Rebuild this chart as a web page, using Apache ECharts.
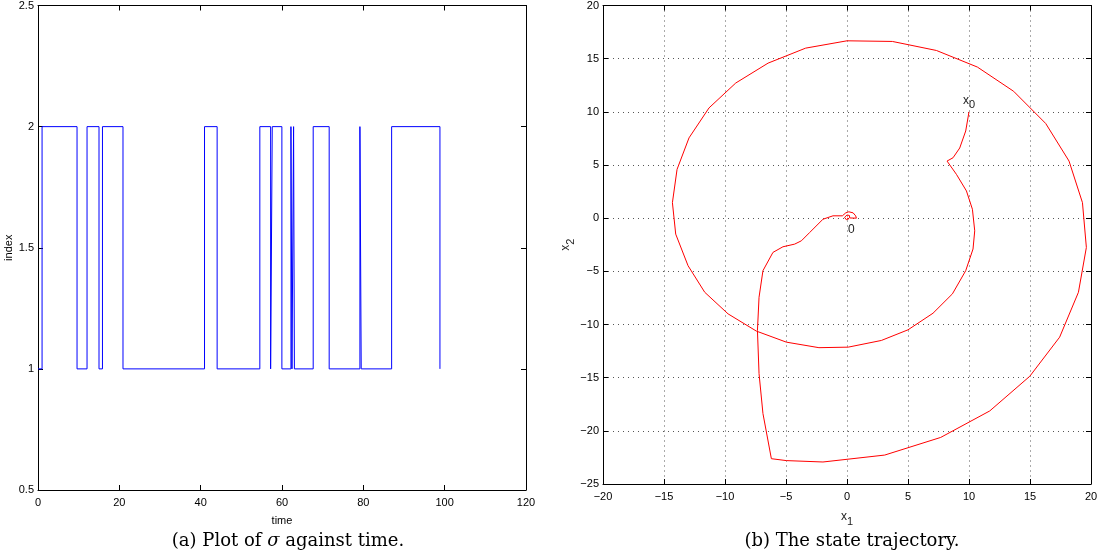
<!DOCTYPE html>
<html>
<head>
<meta charset="utf-8">
<script src="https://cdn.jsdelivr.net/npm/echarts@6/dist/echarts.min.js"></script>
<style>
html,body{margin:0;padding:0;background:#fff;}
#c{width:1104px;height:557px;}
</style>
</head>
<body>
<div id="c"></div>
<script>
// ---- Panel (a): switching signal sigma vs time ----
const switchTimes = [0, 1.0, 9.6, 12.06, 15.0, 15.85, 20.9, 40.95, 44.05, 54.55, 57.2, 57.6, 59.97, 62.2, 62.45, 62.85, 63.05, 67.67, 71.6, 79.16, 79.48, 86.96, 98.84];
const indexValues = [1, 2, 1, 2, 1, 2, 1, 2, 1, 2, 1, 2, 1, 2, 1, 2, 1, 2, 1, 2, 1, 2, 1];
const timeTicks = {min: 0, max: 120, interval: 20};
const indexTicks = {min: 0.5, max: 2.5, interval: 0.5};

// ---- Panel (b): state trajectory ----
const x1Values = [10.0, 9.73, 9.24, 8.69, 8.2, 8.97, 9.79, 10.28, 10.47, 10.33, 9.73, 8.64, 7.05, 5.0, 2.82, 0.1, -2.3, -4.97, -7.43, -9.75, -11.66, -13.03, -14.04, -14.31, -13.93, -12.95, -11.31, -9.12, -6.47, -3.39, 0.0, 3.72, 7.33, 10.69, 13.66, 16.29, 18.2, 19.3, 19.62, 18.97, 17.43, 14.98, 11.7, 7.68, 3.09, -1.97, -4.97, -6.2, -6.89, -7.21, -7.34, -7.21, -6.89, -6.07, -5.25, -4.29, -3.74, -3.06, -1.97, -1.15, -0.38, -0.1, 0.15, 0.5, 0.71, 0.77, 0.22, 0.2, 0.0, -0.2, -0.05, 0.15, 0.1, 0.0];
const x2Values = [10.0, 8.2, 6.6, 5.68, 5.37, 4.12, 2.56, 0.84, -1.19, -2.9, -4.94, -7.12, -8.94, -10.5, -11.5, -12.13, -12.18, -11.66, -10.62, -9.0, -6.97, -4.47, -1.5, 1.46, 4.59, 7.55, 10.37, 12.71, 14.58, 15.99, 16.68, 16.62, 15.77, 14.21, 11.93, 8.9, 5.37, 1.46, -2.75, -6.97, -11.19, -14.87, -18.13, -20.62, -22.28, -22.93, -22.8, -22.62, -18.37, -14.62, -10.56, -7.44, -4.94, -3.22, -2.69, -2.44, -2.13, -1.35, -0.1, 0.22, 0.22, 0.5, 0.6, 0.5, 0.22, 0.0, 0.02, 0.25, 0.3, 0.08, -0.15, -0.05, 0.08, 0.0];
const x1Ticks = {min: -20, max: 20, interval: 5};
const x2Ticks = {min: -25, max: 20, interval: 5};

const captionA = '(a) Plot of {i|σ} against time.';
const captionB = '(b) The state trajectory.';

const stepData = switchTimes.map((t, i) => [t, indexValues[i]]);
const trajData = x1Values.map((x, i) => {
  const item = {value: [x, x2Values[i]]};
  if (i === 0) {
    item.label = {show: true, position: 'top', distance: 1, offset: [-4, 0],
      formatter: 'x{s|0}', color: '#222', fontFamily: 'Liberation Sans', fontSize: 12,
      rich: {s: {fontSize: 11, fontFamily: 'Liberation Sans', color: '#222', padding: [10, 0, 0, 0]}}};
  }
  if (i === x1Values.length - 1) {
    item.label = {show: true, position: [1, 6],
      formatter: '0', color: '#222', fontFamily: 'Liberation Sans', fontSize: 12};
  }
  return item;
});

const fmt = v => String(v).replace('-', '\u2212');
const lbl = {color: '#000', fontFamily: 'Liberation Sans', fontSize: 11};
const axLine = {show: true, onZero: false, lineStyle: {color: '#000', width: 1}};
const tickIn = {show: true, inside: true, length: 5, lineStyle: {color: '#000'}};

function mainX(grid, t, name, extra) {
  return Object.assign({type: 'value', gridIndex: grid, min: t.min, max: t.max, interval: t.interval,
    position: 'bottom', axisLine: axLine, axisTick: tickIn,
    axisLabel: Object.assign({formatter: fmt, margin: 7}, lbl),
    name: name, nameLocation: 'middle', splitLine: {show: false}}, extra || {});
}
function mainY(grid, t, name, extra) {
  return Object.assign({type: 'value', gridIndex: grid, min: t.min, max: t.max, interval: t.interval,
    position: 'left', axisLine: axLine, axisTick: tickIn,
    axisLabel: Object.assign({formatter: fmt, margin: 4}, lbl),
    name: name, nameLocation: 'middle', nameRotate: 90, splitLine: {show: false}}, extra || {});
}
function mirror(kind, grid, t, pos) {
  return {type: 'value', gridIndex: grid, min: t.min, max: t.max, interval: t.interval, position: pos,
    axisLine: axLine, axisTick: tickIn, axisLabel: {show: false}, splitLine: {show: false}};
}
const dotted = {show: true, lineStyle: {color: '#555', type: [1, 4], width: 1}};

const option = {
  animation: false,
  backgroundColor: '#fff',
  title: [
    {text: captionA, left: 283, top: 527, textAlign: 'center',
      textStyle: {fontFamily: 'DejaVu Serif', fontSize: 18, fontWeight: 'normal', color: '#000',
        rich: {i: {fontFamily: 'DejaVu Serif', fontStyle: 'italic', fontSize: 18, color: '#000'}}}},
    {text: captionB, left: 847, top: 527, textAlign: 'center',
      textStyle: {fontFamily: 'DejaVu Serif', fontSize: 18, fontWeight: 'normal', color: '#000'}}
  ],
  grid: [
    {left: 38, top: 5, width: 488, height: 485},
    {left: 603, top: 4, width: 488, height: 480}
  ],
  xAxis: [
    mainX(0, timeTicks, 'time', {nameGap: 25, nameTextStyle: {fontFamily: 'Liberation Sans', fontSize: 11, color: '#000'}}),
    mirror('x', 0, timeTicks, 'top'),
    mainX(1, x1Ticks, 'x{s|1}', {nameGap: 22, splitLine: dotted,
      nameTextStyle: {fontFamily: 'Liberation Sans', fontSize: 12, color: '#222',
        rich: {s: {fontSize: 11, fontFamily: 'Liberation Sans', color: '#222', padding: [10, 0, 0, 0]}}}}),
    mirror('x', 1, x1Ticks, 'top')
  ],
  yAxis: [
    mainY(0, indexTicks, 'index', {nameGap: 23, nameTextStyle: {fontFamily: 'Liberation Sans', fontSize: 11, color: '#000'}}),
    mirror('y', 0, indexTicks, 'right'),
    mainY(1, x2Ticks, 'x{s|2}', {nameGap: 27, splitLine: dotted,
      nameTextStyle: {fontFamily: 'Liberation Sans', fontSize: 12, color: '#222',
        rich: {s: {fontSize: 11, fontFamily: 'Liberation Sans', color: '#222', padding: [10, 0, 0, 0]}}}}),
    mirror('y', 1, x2Ticks, 'right')
  ],
  series: [
    {type: 'line', xAxisIndex: 0, yAxisIndex: 0, data: stepData, step: 'end', showSymbol: false,
      symbol: 'none', lineStyle: {color: '#0000ff', width: 1}, silent: true},
    {type: 'line', xAxisIndex: 2, yAxisIndex: 2, data: trajData, showSymbol: true, symbol: 'circle',
      symbolSize: 0.01, itemStyle: {color: 'rgba(0,0,0,0)'}, labelLayout: {hideOverlap: false},
      lineStyle: {color: '#ff0000', width: 1}, silent: true}
  ]
};
const chart = echarts.init(document.getElementById('c'), null, {renderer: 'canvas'});
chart.setOption(option);
</script>
</body>
</html>
